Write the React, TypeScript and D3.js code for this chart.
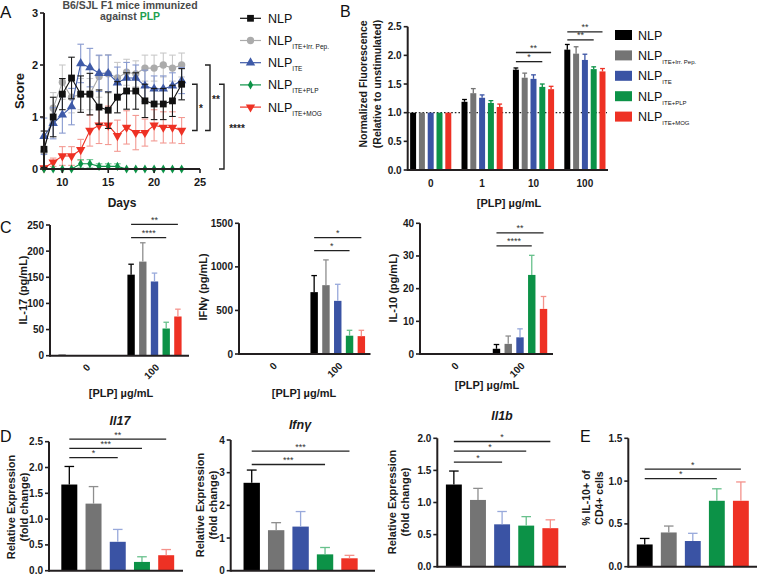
import React from "react";
import * as d3 from "d3";

const FONT = "'Liberation Sans', Arial, Helvetica, sans-serif";
const AXIS = "#231f20";

// ---------- shared series ----------
const seriesSubs = ["", "ITE+Irr. Pep.", "ITE", "ITE+PLP", "ITE+MOG"];
const barColors = ["#000000", "#747474", "#3a53a4", "#0c9247", "#ee3124"];
const barErrColors = ["#000000", "#8e8e8e", "#98a9db", "#68c18c", "#f4928b"];
const lineColors = ["#111111", "#ababab", "#3e5aa8", "#0c9247", "#ee3124"];
const lineErrColors = ["#1a1a1a", "#c9c9c9", "#8799cf", "#70c693", "#f39a93"];

// ---------- Panel A ----------
const days = [8, 9, 10, 11, 12, 13, 14, 15, 16, 17, 18, 19, 20, 21, 22, 23];
const scoreNLP = [0.38, 1.0, 1.44, 1.75, 1.44, 1.44, 1.19, 1.13, 1.38, 1.5, 1.5, 1.31, 1.25, 1.25, 1.31, 1.63];
const scoreNLPErr = [0.35, 0.38, 0.3, 0.4, 0.35, 0.4, 0.33, 0.35, 0.3, 0.35, 0.35, 0.32, 0.3, 0.3, 0.3, 0.3];
const scoreIrr = [0.33, 1.17, 1.67, 1.38, 1.44, 1.44, 1.78, 1.83, 1.75, 1.86, 1.83, 1.94, 1.94, 2.0, 1.94, 2.0];
const scoreIrrErr = [0.3, 0.3, 0.33, 0.3, 0.3, 0.3, 0.4, 0.37, 0.3, 0.25, 0.25, 0.25, 0.25, 0.23, 0.25, 0.23];
const scoreITE = [0.63, 0.88, 1.04, 1.2, 2.03, 1.95, 1.84, 1.84, 1.66, 1.75, 1.75, 1.6, 1.54, 1.54, 1.6, 1.7];
const scoreITEErr = [0.35, 0.3, 0.35, 0.35, 0.37, 0.37, 0.35, 0.35, 0.3, 0.3, 0.25, 0.3, 0.25, 0.25, 0.25, 0.25];
const scorePLP = [0, 0, 0, 0, 0.1, 0.1, 0.05, 0.05, 0.05, 0, 0, 0, 0, 0, 0, 0];
const scorePLPErr = [0, 0, 0, 0, 0.08, 0.08, 0.05, 0.05, 0.05, 0, 0, 0, 0, 0, 0, 0];
const scoreMOG = [0.02, 0.13, 0.25, 0.25, 0.37, 0.74, 0.84, 0.84, 0.64, 0.8, 0.7, 0.7, 0.84, 0.8, 0.8, 0.74];
const scoreMOGErr = [0.03, 0.08, 0.18, 0.18, 0.2, 0.3, 0.35, 0.37, 0.3, 0.32, 0.33, 0.26, 0.3, 0.3, 0.3, 0.25];
const aTicksY = [0, 1, 2, 3];
const aTicksX = [10, 15, 20, 25];
const aBrackets = [
  { top: 1.63, bottom: 0.74, label: "*" },
  { top: 2.0, bottom: 0.74, label: "**" },
  { top: 1.63, bottom: 0, label: "****" },
];

// ---------- Panel B ----------
const bConc = ["0", "1", "10", "100"];
const bValues = [
  [1, 1, 1, 1, 1],
  [1.19, 1.34, 1.26, 1.17, 1.1],
  [1.75, 1.61, 1.59, 1.45, 1.41],
  [2.1, 2.03, 1.92, 1.76, 1.72],
];
const bErrors = [
  [0, 0, 0, 0, 0],
  [0.04, 0.08, 0.05, 0.04, 0.05],
  [0.03, 0.08, 0.07, 0.05, 0.05],
  [0.09, 0.12, 0.1, 0.04, 0.05],
];
const bTicks = [0, 0.5, 1, 1.5, 2, 2.5];
const bSigs = [
  { g: 2, to: 3, at: 1.89, label: "*" },
  { g: 2, to: 4, at: 2.05, label: "**" },
  { g: 3, to: 3, at: 2.27, label: "**" },
  { g: 3, to: 4, at: 2.41, label: "**" },
];

// ---------- Panel C ----------
const cConc = ["0", "100"];
const il17Values = [[2, 0, 0, 0, 0], [155, 180, 142, 52, 75]];
const il17Errors = [[0, 0, 0, 0, 0], [20, 36, 16, 12, 14]];
const il17Ticks = [0, 50, 100, 150, 200, 250];
const il17Sigs = [
  { g: 1, to: 3, at: 225.7, label: "****" },
  { g: 1, to: 4, at: 251.3, label: "**" },
];
const ifngValues = [[0, 0, 0, 0, 0], [710, 790, 610, 210, 205]];
const ifngErrors = [[0, 0, 0, 0, 0], [190, 290, 190, 62, 67]];
const ifngTicks = [0, 500, 1000, 1500];
const ifngSigs = [
  { g: 1, to: 3, at: 1187, label: "*" },
  { g: 1, to: 4, at: 1336, label: "*" },
];
const il10Values = [[0, 0, 0, 0, 0], [1.6, 3.1, 5.1, 24.2, 13.8]];
const il10Errors = [[0, 0, 0, 0, 0], [1.3, 2.4, 2.6, 6.0, 3.8]];
const il10Ticks = [0, 10, 20, 30, 40];
const il10Sigs = [
  { g: 1, to: 3, at: 33.1, label: "****" },
  { g: 1, to: 4, at: 37.1, label: "**" },
];

// ---------- Panel D ----------
const il17Expr = [[1.67, 1.3, 0.56, 0.17, 0.3]];
const il17ExprErr = [[0.35, 0.33, 0.24, 0.1, 0.11]];
const il17ExprTicks = [0, 0.5, 1, 1.5, 2, 2.5];
const il17ExprSigs = [
  { g: 0, to: 2, at: 2.19, label: "*" },
  { g: 0, to: 3, at: 2.37, label: "***" },
  { g: 0, to: 4, at: 2.55, label: "**" },
];
const ifngExpr = [[2.69, 1.24, 1.35, 0.5, 0.38]];
const ifngExprErr = [[0.39, 0.23, 0.46, 0.21, 0.09]];
const ifngExprTicks = [0, 1, 2, 3, 4];
const ifngExprSigs = [
  { g: 0, to: 3, at: 3.25, label: "***" },
  { g: 0, to: 4, at: 3.66, label: "***" },
];
const il1bExpr = [[1.28, 1.04, 0.66, 0.64, 0.6]];
const il1bExprErr = [[0.21, 0.18, 0.2, 0.14, 0.13]];
const il1bExprTicks = [0, 0.5, 1, 1.5, 2];
const il1bExprSigs = [
  { g: 0, to: 2, at: 1.63, label: "*" },
  { g: 0, to: 3, at: 1.8, label: "*" },
  { g: 0, to: 4, at: 1.95, label: "*" },
];

// ---------- Panel E ----------
const il10Pct = [[0.26, 0.4, 0.3, 0.77, 0.77]];
const il10PctErr = [[0.07, 0.075, 0.09, 0.14, 0.22]];
const il10PctTicks = [0, 0.5, 1, 1.5];
const il10PctSigs = [
  { g: 0, to: 3, at: 1.03, label: "*" },
  { g: 0, to: 4, at: 1.14, label: "*" },
];

const f1 = d3.format(".1f");
const f0 = d3.format("d");

type Sig = { g: number; to: number; at: number; label: string };

function YAxis({ scale, x, ticks, fmt, fs = 10 }: any) {
  return (
    <g>
      <line x1={x} x2={x} y1={scale(ticks[0]) + 1} y2={scale(ticks[ticks.length - 1])} stroke={AXIS} strokeWidth={2} />
      {ticks.map((t: number) => (
        <g key={t}>
          <line x1={x - 4} x2={x} y1={scale(t)} y2={scale(t)} stroke={AXIS} strokeWidth={1.6} />
          <text x={x - 6} y={scale(t)} dy="0.35em" textAnchor="end" fontSize={fs} fontWeight="bold" fill="#1a1a1a">
            {fmt(t)}
          </text>
        </g>
      ))}
    </g>
  );
}

function BarPanel(p: {
  axisX: [number, number];
  yPix: [number, number];
  yMax: number;
  ticks: number[];
  fmt: (v: number) => string;
  groups: string[];
  groupRange: [number, number];
  innerRange: [number, number];
  pad: number;
  values: number[][];
  errors: number[][];
  sigs: Sig[];
  labelMode: "none" | "flat" | "rot";
  errColors: string[];
  capRatio: number;
}) {
  const y = d3.scaleLinear().domain([0, p.yMax]).range(p.yPix);
  const gx = d3.scaleBand<string>().domain(p.groups).range(p.groupRange).padding(0);
  const ix = d3
    .scaleBand<number>()
    .domain(d3.range(5))
    .range(p.innerRange)
    .paddingInner(p.pad)
    .paddingOuter(p.pad / 2);
  const bw = ix.bandwidth();
  const cx = (g: number, s: number) => (gx(p.groups[g]) as number) + (ix(s) as number) + bw / 2;
  const y0 = y(0);
  const cap = bw * p.capRatio;
  return (
    <g>
      {p.values.map((row, g) =>
        row.map((v, s) => {
          if (v <= 0) return null;
          const e = p.errors[g][s];
          const c = cx(g, s);
          return (
            <g key={`${g}-${s}`}>
              <rect x={c - bw / 2} y={y(v)} width={bw} height={y0 - y(v)} fill={barColors[s]} />
              {e > 0 && (
                <g stroke={p.errColors[s]} strokeWidth={1.3}>
                  <line x1={c} x2={c} y1={y(v)} y2={y(v + e)} />
                  <line x1={c - cap / 2} x2={c + cap / 2} y1={y(v + e)} y2={y(v + e)} />
                </g>
              )}
            </g>
          );
        })
      )}
      <line x1={p.axisX[0]} x2={p.axisX[1]} y1={y0} y2={y0} stroke={AXIS} strokeWidth={2} />
      <YAxis scale={y} x={p.axisX[0]} ticks={p.ticks} fmt={p.fmt} />
      {p.labelMode === "flat" &&
        p.groups.map((gname) => (
          <text key={gname} x={(gx(gname) as number) + gx.bandwidth() / 2} y={y0 + 17} textAnchor="middle" fontSize={10} fontWeight="bold" fill="#1a1a1a">
            {gname}
          </text>
        ))}
      {p.labelMode === "rot" &&
        p.groups.map((gname) => {
          const tx = (gx(gname) as number) + gx.bandwidth() / 2;
          return (
            <text key={gname} transform={`translate(${tx + 3},${y0 + 10}) rotate(-45)`} dy="0.35em" textAnchor="end" fontSize={10} fontWeight="bold" fill="#1a1a1a">
              {gname}
            </text>
          );
        })}
      {p.sigs.map((sg, i) => {
        const xa = cx(sg.g, 0);
        const xb = cx(sg.g, sg.to);
        const yy = y(sg.at);
        return (
          <g key={i}>
            <line x1={xa} x2={xb} y1={yy} y2={yy} stroke="#222" strokeWidth={1.3} />
            <text x={(xa + xb) / 2} y={yy - 1.5} textAnchor="middle" fontSize={9} fill="#333">
              {sg.label}
            </text>
          </g>
        );
      })}
    </g>
  );
}

function RotLabel({ x, y, lines, fs, gap = 13 }: any) {
  return (
    <g>
      {lines.map((l: string, i: number) => (
        <text key={i} transform={`translate(${x + i * gap},${y}) rotate(-90)`} textAnchor="middle" dominantBaseline="central" fontSize={fs} fontWeight="bold" fill="#1a1a1a">
          {l}
        </text>
      ))}
    </g>
  );
}

function PanelA() {
  const x = d3.scaleLinear().domain([8, 25]).range([44, 200]);
  const y = d3.scaleLinear().domain([0, 3]).range([169, 13]);
  const line = d3
    .line<number>()
    .x((_, i) => x(days[i]))
    .y((d) => y(d));
  const series = [
    { v: scoreIrr, e: scoreIrrErr, c: 1, sym: d3.symbolCircle, size: 42, rot: 0 },
    { v: scoreITE, e: scoreITEErr, c: 2, sym: d3.symbolTriangle, size: 38, rot: 0 },
    { v: scoreMOG, e: scoreMOGErr, c: 4, sym: d3.symbolTriangle, size: 38, rot: 180 },
    { v: scorePLP, e: scorePLPErr, c: 3, sym: d3.symbolDiamond, size: 24, rot: 0 },
    { v: scoreNLP, e: scoreNLPErr, c: 0, sym: d3.symbolSquare, size: 46, rot: 0 },
  ];
  const legend = [
    { c: 0, sym: d3.symbolSquare, size: 46, rot: 0 },
    { c: 1, sym: d3.symbolCircle, size: 42, rot: 0 },
    { c: 2, sym: d3.symbolTriangle, size: 38, rot: 0 },
    { c: 3, sym: d3.symbolDiamond, size: 24, rot: 0 },
    { c: 4, sym: d3.symbolTriangle, size: 38, rot: 180 },
  ];
  const bx = [
    [192, 197, 201],
    [205, 210, 216],
    [219, 224, 237],
  ];
  return (
    <g>
      <text x={0} y={18} fontSize={17} fill="#111">A</text>
      <text x={130} y={9} textAnchor="middle" fontSize={10.5} fontWeight="bold" fill="#4a4a4a">
        B6/SJL F1 mice immunized
      </text>
      <text x={130} y={19.5} textAnchor="middle" fontSize={10.5} fontWeight="bold" fill="#4a4a4a">
        against <tspan fill="#1fa04f">PLP</tspan>
      </text>
      {series.map((s, k) => (
        <g key={k}>
          {s.v.map((v, i) =>
            s.e[i] > 0 ? (
              <g key={i} stroke={lineErrColors[s.c]} strokeWidth={1.1}>
                <line x1={x(days[i])} x2={x(days[i])} y1={y(Math.max(0, v - s.e[i]))} y2={y(v + s.e[i])} />
                <line x1={x(days[i]) - 3.3} x2={x(days[i]) + 3.3} y1={y(v + s.e[i])} y2={y(v + s.e[i])} />
                {v - s.e[i] > 0 && <line x1={x(days[i]) - 3.3} x2={x(days[i]) + 3.3} y1={y(v - s.e[i])} y2={y(v - s.e[i])} />}
              </g>
            ) : null
          )}
          <path d={line(s.v) as string} fill="none" stroke={lineColors[s.c]} strokeWidth={1.1} />
          {s.v.map((v, i) => (
            <path
              key={i}
              d={d3.symbol().type(s.sym).size(s.size)() as string}
              transform={`translate(${x(days[i])},${y(v)}) rotate(${s.rot})`}
              fill={lineColors[s.c]}
            />
          ))}
        </g>
      ))}
      {/* axes */}
      <line x1={44} x2={x(25)} y1={y(0)} y2={y(0)} stroke={AXIS} strokeWidth={2} />
      {aTicksX.map((t) => (
        <g key={t}>
          <line x1={x(t)} x2={x(t)} y1={y(0)} y2={y(0) + 4} stroke={AXIS} strokeWidth={1.6} />
          <text x={x(t)} y={y(0) + 17} textAnchor="middle" fontSize={11} fontWeight="bold" fill="#1a1a1a">{t}</text>
        </g>
      ))}
      <YAxis scale={y} x={44} ticks={aTicksY} fmt={f0} fs={11} />
      <text transform="translate(19,91) rotate(-90)" textAnchor="middle" dominantBaseline="central" fontSize={13} fontWeight="bold" fill="#1a1a1a">Score</text>
      <text x={122} y={207} textAnchor="middle" fontSize={12} fontWeight="bold" fill="#1a1a1a">Days</text>
      {/* brackets */}
      {aBrackets.map((b, i) => (
        <g key={i}>
          <path d={`M${bx[i][0]},${y(b.top)}H${bx[i][1]}V${y(b.bottom)}H${bx[i][0]}`} fill="none" stroke="#222" strokeWidth={1.4} />
          <text x={bx[i][2]} y={(y(b.top) + y(b.bottom)) / 2 + 5} textAnchor="middle" fontSize={10} fontWeight="bold" fill="#222">{b.label}</text>
        </g>
      ))}
      {/* legend */}
      {legend.map((l, i) => {
        const ry = 18.3 + i * 22.2;
        return (
          <g key={i}>
            <line x1={240} x2={261} y1={ry} y2={ry} stroke={lineColors[l.c]} strokeWidth={1.2} />
            <path d={d3.symbol().type(l.sym).size(l.size)() as string} transform={`translate(250.5,${ry}) rotate(${l.rot})`} fill={lineColors[l.c]} />
            <text x={268} y={ry + 4.5} fontSize={12.5} fill="#111">
              NLP
              {seriesSubs[i] && <tspan fontSize={6.5} dy={4}>{seriesSubs[i]}</tspan>}
            </text>
          </g>
        );
      })}
    </g>
  );
}

function PanelB() {
  const yL = d3.scaleLinear().domain([0, 2.5]).range([170, 26.7]);
  return (
    <g>
      <text x={340} y={17} fontSize={16} fill="#111">B</text>
      <line x1={408} x2={607} y1={yL(1)} y2={yL(1)} stroke="#222" strokeWidth={1.2} strokeDasharray="1.6,2" />
      <BarPanel
        axisX={[407.7, 608]}
        yPix={[170, 26.7]}
        yMax={2.5}
        ticks={bTicks}
        fmt={f1}
        groups={bConc}
        groupRange={[405, 610.6]}
        innerRange={[3.7, 47.7]}
        pad={0.32}
        values={bValues}
        errors={bErrors}
        sigs={bSigs}
        labelMode="flat"
        errColors={barColors}
        capRatio={0.8}
      />
      <RotLabel x={363} y={84} lines={["Normalized Fluorescence", "(Relative to unstimulated)"]} fs={10.5} gap={13.5} />
      <text x={509} y={207} textAnchor="middle" fontSize={11} fontWeight="bold" fill="#1a1a1a">[PLP] µg/mL</text>
      {barColors.map((c, i) => {
        const ry = 35 + i * 20.4;
        return (
          <g key={i}>
            <rect x={615} y={ry - 5} width={17} height={10} fill={c} />
            <text x={638} y={ry + 4.5} fontSize={12.5} fill="#111">
              NLP
              {seriesSubs[i] && <tspan fontSize={6} dy={4}>{seriesSubs[i]}</tspan>}
            </text>
          </g>
        );
      })}
    </g>
  );
}

function PanelC() {
  return (
    <g>
      <text x={0} y={233} fontSize={16} fill="#111">C</text>
      <BarPanel
        axisX={[50, 189]}
        yPix={[355.7, 225]}
        yMax={250}
        ticks={il17Ticks}
        fmt={f0}
        groups={cConc}
        groupRange={[51, 189]}
        innerRange={[5.25, 63.75]}
        pad={0.37}
        values={il17Values}
        errors={il17Errors}
        sigs={il17Sigs}
        labelMode="rot"
        errColors={barErrColors}
        capRatio={0.75}
      />
      <RotLabel x={23} y={290} lines={["IL-17 (pg/mL)"]} fs={11} />
      <text x={121} y={397} textAnchor="middle" fontSize={11} fontWeight="bold" fill="#1a1a1a">[PLP] µg/mL</text>

      <BarPanel
        axisX={[239, 370.5]}
        yPix={[354, 223.3]}
        yMax={1500}
        ticks={ifngTicks}
        fmt={f0}
        groups={cConc}
        groupRange={[239.5, 370.5]}
        innerRange={[3.25, 62.25]}
        pad={0.37}
        values={ifngValues}
        errors={ifngErrors}
        sigs={ifngSigs}
        labelMode="rot"
        errColors={barErrColors}
        capRatio={0.75}
      />
      <RotLabel x={202.5} y={287} lines={["IFNγ  (pg/mL)"]} fs={11} />
      <text x={304} y={397} textAnchor="middle" fontSize={11} fontWeight="bold" fill="#1a1a1a">[PLP] µg/mL</text>

      <BarPanel
        axisX={[420, 553]}
        yPix={[354, 223.3]}
        yMax={40}
        ticks={il10Ticks}
        fmt={f0}
        groups={cConc}
        groupRange={[421, 553]}
        innerRange={[3.6, 62.4]}
        pad={0.37}
        values={il10Values}
        errors={il10Errors}
        sigs={il10Sigs}
        labelMode="rot"
        errColors={barErrColors}
        capRatio={0.75}
      />
      <RotLabel x={393} y={288} lines={["IL-10 (pg/mL)"]} fs={11} />
      <text x={487} y={389} textAnchor="middle" fontSize={11} fontWeight="bold" fill="#1a1a1a">[PLP] µg/mL</text>
    </g>
  );
}

function PanelDE() {
  return (
    <g>
      <text x={0} y={442} fontSize={16} fill="#111">D</text>
      <text x={120} y={425} textAnchor="middle" fontSize={12.5} fontWeight="bold" fontStyle="italic" fill="#1a1a1a">Il17</text>
      <BarPanel
        axisX={[49, 183]}
        yPix={[570.7, 441.7]}
        yMax={2.5}
        ticks={il17ExprTicks}
        fmt={f1}
        groups={[""]}
        groupRange={[57.2, 178.3]}
        innerRange={[0, 121.1]}
        pad={0.34}
        values={il17Expr}
        errors={il17ExprErr}
        sigs={il17ExprSigs}
        labelMode="none"
        errColors={barErrColors}
        capRatio={0.6}
      />
      <RotLabel x={11} y={507} lines={["Relative Expression", "(fold change)"]} fs={11} gap={13} />

      <text x={300} y={429} textAnchor="middle" fontSize={12.5} fontWeight="bold" fontStyle="italic" fill="#1a1a1a">Ifnγ</text>
      <BarPanel
        axisX={[230.7, 375]}
        yPix={[570.7, 440]}
        yMax={4}
        ticks={ifngExprTicks}
        fmt={f0}
        groups={[""]}
        groupRange={[239.5, 361.7]}
        innerRange={[0, 122.2]}
        pad={0.33}
        values={ifngExpr}
        errors={ifngExprErr}
        sigs={ifngExprSigs}
        labelMode="none"
        errColors={barErrColors}
        capRatio={0.6}
      />
      <RotLabel x={200} y={505} lines={["Relative Expression", "(fold change)"]} fs={11} gap={13} />

      <text x={502} y={420} textAnchor="middle" fontSize={12.5} fontWeight="bold" fontStyle="italic" fill="#1a1a1a">Il1b</text>
      <BarPanel
        axisX={[437.3, 566]}
        yPix={[566.7, 438.3]}
        yMax={2}
        ticks={il1bExprTicks}
        fmt={f1}
        groups={[""]}
        groupRange={[441.8, 562.4]}
        innerRange={[0, 120.6]}
        pad={0.34}
        values={il1bExpr}
        errors={il1bExprErr}
        sigs={il1bExprSigs}
        labelMode="none"
        errColors={barErrColors}
        capRatio={0.6}
      />
      <RotLabel x={392} y={502} lines={["Relative Expression", "(fold change)"]} fs={11} gap={13} />

      <text x={580} y={442} fontSize={16} fill="#111">E</text>
      <BarPanel
        axisX={[628.3, 757]}
        yPix={[566.7, 438.3]}
        yMax={1.5}
        ticks={il10PctTicks}
        fmt={f1}
        groups={[""]}
        groupRange={[632.7, 752.9]}
        innerRange={[0, 120.2]}
        pad={0.34}
        values={il10Pct}
        errors={il10PctErr}
        sigs={il10PctSigs}
        labelMode="none"
        errColors={barErrColors}
        capRatio={0.6}
      />
      <RotLabel x={586} y={498} lines={["% IL-10+ of", "CD4+ cells"]} fs={10.5} gap={13} />
    </g>
  );
}

export default function App() {
  return (
    <svg
      width={757}
      height={578}
      viewBox="0 0 757 578"
      style={{ position: "absolute", left: 0, top: 0, display: "block" }}
      fontFamily={FONT}
    >
      <rect width={757} height={578} fill="#ffffff" />
      <PanelA />
      <PanelB />
      <PanelC />
      <PanelDE />
    </svg>
  );
}
